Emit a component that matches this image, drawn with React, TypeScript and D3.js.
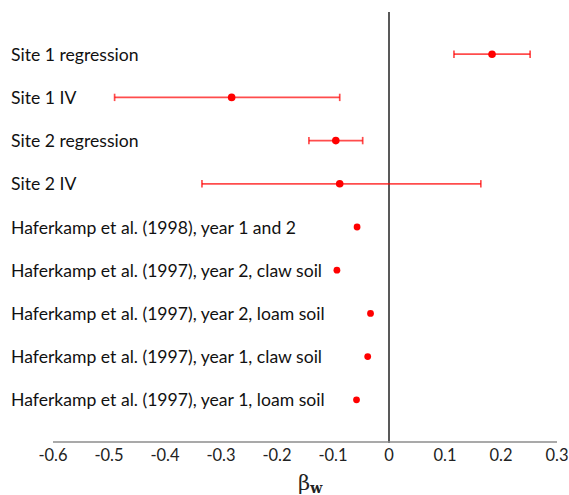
import React from 'react';
import * as d3 from 'd3';

const W = 569;
const H = 495;

// studies, top to bottom
const labels = [
  'Site 1 regression',
  'Site 1 IV',
  'Site 2 regression',
  'Site 2 IV',
  'Haferkamp et al. (1998), year 1 and 2',
  'Haferkamp et al. (1997), year 2, claw soil',
  'Haferkamp et al. (1997), year 2, loam soil',
  'Haferkamp et al. (1997), year 1, claw soil',
  'Haferkamp et al. (1997), year 1, loam soil',
];
const estimates = [0.184, -0.281, -0.095, -0.088, -0.057, -0.093, -0.033, -0.038, -0.058];
const lower = [0.116, -0.49, -0.143, -0.334, null, null, null, null, null];
const upper = [0.252, -0.088, -0.047, 0.164, null, null, null, null, null];
const xTicks = [-0.6, -0.5, -0.4, -0.3, -0.2, -0.1, 0, 0.1, 0.2, 0.3];

const LABEL_FONT = 'Lato, "Open Sans", sans-serif';
const RED = '#ff0000';

export default function App() {
  const x = d3.scaleLinear().domain([-0.6, 0.3]).range([53, 557]);
  const y = d3.scaleLinear().domain([0, 10]).range([11, 443]);
  const fmt = (d: number) => String(+d.toFixed(1));

  return (
    <svg width={W} height={H} style={{ position: 'absolute', left: 0, top: 0, background: '#fff' }}>
      {/* zero line */}
      <line x1={x(0)} x2={x(0)} y1={y(0) + 1} y2={y(10)} stroke="#595959" strokeWidth={2} />
      {/* x axis */}
      <line x1={x(-0.6)} x2={x(0.3)} y1={y(10) - 1} y2={y(10) - 1} stroke="#8c8c8c" strokeWidth={1.5} />
      {xTicks.map(t => (
        <text key={t} x={x(t)} y={461} textAnchor="middle" fontFamily={LABEL_FONT} fontSize={16.5} fill="#222">
          {fmt(t)}
        </text>
      ))}
      <text x={298} y={490} fontFamily='"DejaVu Serif", serif' fontSize={21} fill="#222">
        β<tspan fontSize={14} fontWeight="bold" dy={3}>w</tspan>
      </text>

      {/* row labels */}
      {labels.map((l, i) => (
        <text key={l} x={11} y={y(i + 1) + 6.5} fontFamily={LABEL_FONT} fontSize={17.6} fill="#111">
          {l}
        </text>
      ))}

      {/* error bars */}
      {estimates.map((e, i) => {
        const lo = lower[i];
        const hi = upper[i];
        const cy = y(i + 1);
        return (
          <g key={i}>
            {lo != null && hi != null && (
              <g stroke={RED} strokeOpacity={0.7} strokeWidth={1.7}>
                <line x1={x(lo)} x2={x(hi)} y1={cy} y2={cy} />
                <line x1={x(lo)} x2={x(lo)} y1={cy - 3.7} y2={cy + 3.7} />
                <line x1={x(hi)} x2={x(hi)} y1={cy - 3.7} y2={cy + 3.7} />
              </g>
            )}
            <circle cx={x(e)} cy={cy} r={lo != null ? 3.8 : 3.4} fill={RED} />
          </g>
        );
      })}
    </svg>
  );
}
